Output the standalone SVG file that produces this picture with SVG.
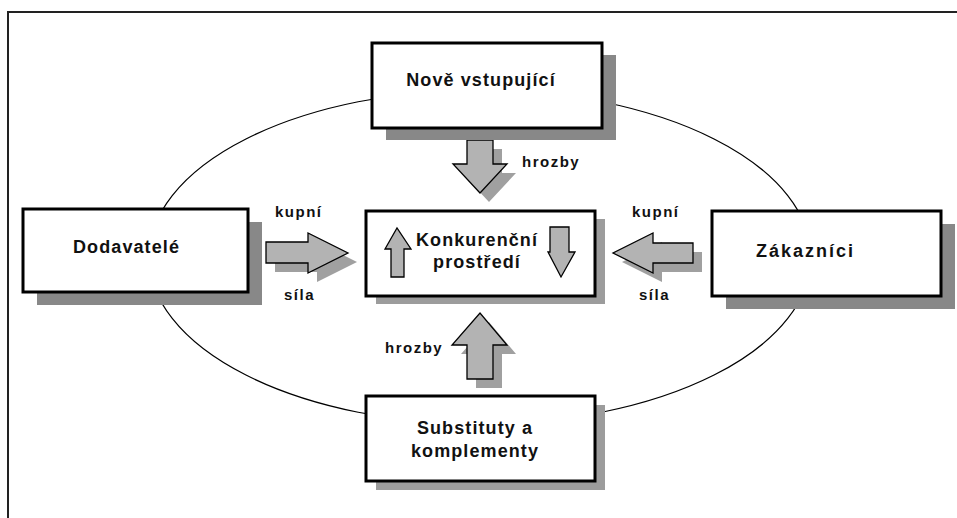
<svg xmlns="http://www.w3.org/2000/svg" width="957" height="518" viewBox="0 0 957 518">
<style>
.box{fill:#fff;stroke:#000;stroke-width:3}
.sh1{fill:#888}
.sh2{fill:#9c9c9c}
.arr{fill:#b3b3b3;stroke:#000;stroke-width:1.3;stroke-linejoin:miter}
.ash{fill:#a0a0a0}
.t{font-family:"Liberation Sans",Arial,sans-serif;font-weight:bold;fill:#111}
.big{font-size:18px;letter-spacing:1.1px}
.sm{font-size:15px;letter-spacing:1.5px}
</style>
<rect width="957" height="518" fill="#fff"/>
<path d="M8,518 V12 H957" fill="none" stroke="#222" stroke-width="2"/>
<g id="connectors">
<ellipse cx="480" cy="257" rx="331" ry="167" fill="none" stroke="#000" stroke-width="1.2"/>
<g id="arrow-top">
<polygon class="ash" points="476,149 502,149 502,173 516,173 489,202 462,173 476,173"/>
<polygon class="arr" points="467,140 493,140 493,164 507,164 480,193 453,164 467,164"/>
</g>
<g id="arrow-left">
<polygon class="ash" points="275,251 317,251 317,242 357,262 317,282 317,272 275,272"/>
<polygon class="arr" points="266,242 308,242 308,233 348,253 308,273 308,263 266,263"/>
</g>
<g id="arrow-right">
<polygon class="ash" points="702,252 662,252 662,242 622,262 662,282 662,272 702,272"/>
<polygon class="arr" points="693,243 653,243 653,233 613,253 653,273 653,263 693,263"/>
</g>
<g id="arrow-bottom">
<polygon class="ash" points="476,388 502,388 502,354 516,354 489,322 461,354 476,354"/>
<polygon class="arr" points="467,379 493,379 493,345 507,345 480,313 452,345 467,345"/>
</g>
</g>
<g id="node-nove">
<rect class="sh1" x="386" y="55" width="230" height="85"/>
<rect class="box" x="372" y="43" width="230" height="85"/>
<text class="t big" x="481" y="86" text-anchor="middle">Nově vstupující</text>
</g>
<g id="node-dodavatele">
<rect class="sh1" x="37" y="222" width="225" height="83"/>
<rect class="box" x="23" y="209" width="225" height="83"/>
<text class="t big" x="73" y="253">Dodavatelé</text>
</g>
<g id="node-zakaznici">
<rect class="sh1" x="726" y="224" width="229" height="85"/>
<rect class="box" x="712" y="211" width="229" height="85"/>
<text class="t big" x="756" y="257" style="letter-spacing:2px">Zákazníci</text>
</g>
<g id="node-konkurencni">
<rect class="sh2" x="376" y="219" width="229" height="85"/>
<rect class="box" x="366" y="211" width="229" height="85"/>
<polygon class="arr" points="391,277 404,277 404,249 411,249 397,228 385,249 391,249"/>
<polygon class="arr" points="550,227 569,227 569,252 575,252 561,277 548,252 550,252"/>
<text class="t big" x="477" y="246" text-anchor="middle">Konkurenční</text>
<text class="t big" x="477" y="268" text-anchor="middle">prostředí</text>
</g>
<g id="node-substituty">
<rect class="sh2" x="376" y="405" width="229" height="85"/>
<rect class="box" x="366" y="396" width="229" height="85"/>
<text class="t big" x="475" y="434" text-anchor="middle">Substituty a</text>
<text class="t big" x="475" y="457" text-anchor="middle">komplementy</text>
</g>
<g id="labels">
<text class="t sm" x="522" y="167">hrozby</text>
<text class="t sm" x="385" y="353">hrozby</text>
<text class="t sm" x="275" y="217">kupní</text>
<text class="t sm" x="284" y="300">síla</text>
<text class="t sm" x="632" y="217">kupní</text>
<text class="t sm" x="639" y="300">síla</text>
</g>
</svg>
